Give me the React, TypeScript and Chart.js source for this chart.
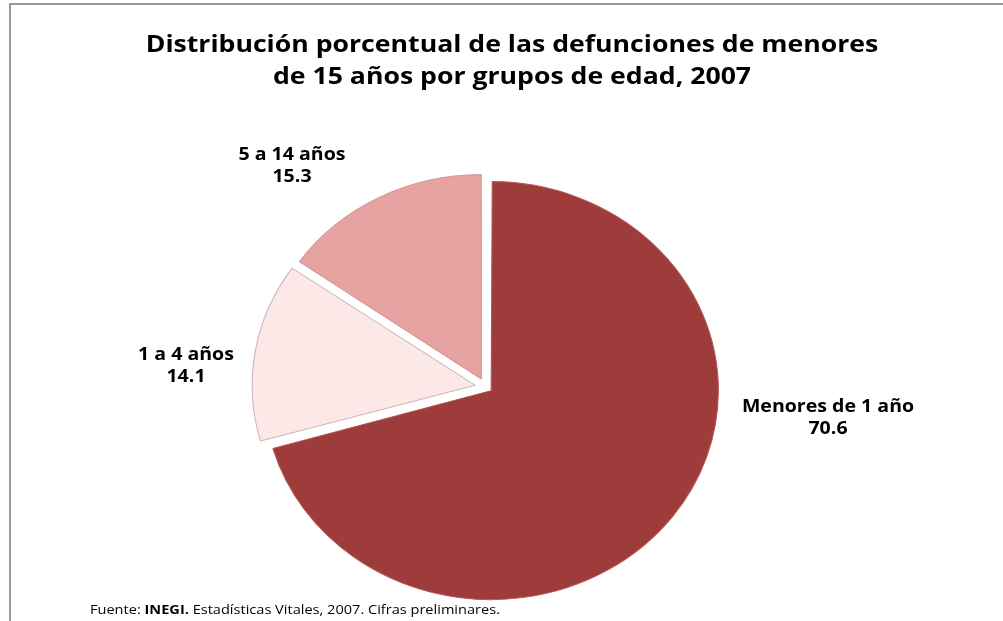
import React, { useEffect, useRef } from 'react';
import { Chart, registerables } from 'chart.js';

Chart.register(...registerables);

const TITLE_LINES = [
  'Distribución porcentual de las defunciones de menores',
  'de 15 años por grupos de edad, 2007',
];
const CATEGORIES = ['Menores de 1 año', '1 a 4 años', '5 a 14 años'];
const VALUES = [70.6, 14.1, 15.3];
const VALUE_LABELS = ['70.6', '14.1', '15.3'];
const COLORS = ['#9e3c3c', '#fde8e8', '#e6a3a1'];
const BORDER_COLORS = ['#b55454', '#c9b9b9', '#d89694'];
const OFFSETS = [24, 40, 36];
const FOOTER_PARTS: [string, boolean][] = [
  ['Fuente: ', false],
  ['INEGI.', true],
  [' Estadísticas Vitales, 2007. Cifras preliminares.', false],
];
// label anchor positions (layout, not data)
const LABEL_POS = [
  { x: 828, y: 407 },
  { x: 186, y: 355 },
  { x: 292, y: 155 },
];

const W = 1003;
const H = 621;
const SX = 1.087;
const FONT = '"Open Sans", "DejaVu Sans", sans-serif';

const framePlugin = {
  id: 'frame',
  beforeDraw(chart: any) {
    const ctx = chart.ctx;
    ctx.save();
    ctx.fillStyle = '#ffffff';
    ctx.fillRect(0, 0, W, H);
    ctx.strokeStyle = '#9a9a9a';
    ctx.lineWidth = 2;
    ctx.beginPath();
    ctx.moveTo(10, H);
    ctx.lineTo(10, 4);
    ctx.lineTo(W, 4);
    ctx.stroke();
    ctx.restore();
  },
};

const stretchPlugin = {
  id: 'stretch',
  beforeDatasetsDraw(chart: any) {
    const arc = chart.getDatasetMeta(0).data[0];
    const ctx = chart.ctx;
    ctx.save();
    ctx.translate(arc.x, 0);
    ctx.scale(SX, 1);
    ctx.translate(-arc.x, 0);
  },
  afterDatasetsDraw(chart: any) {
    chart.ctx.restore();
  },
};

function drawStretched(ctx: CanvasRenderingContext2D, text: string, x: number, y: number, sx: number) {
  ctx.save();
  ctx.translate(x, y);
  ctx.scale(sx, 1);
  ctx.fillText(text, 0, 0);
  ctx.restore();
}

const textPlugin = {
  id: 'texts',
  afterDraw(chart: any) {
    const ctx: CanvasRenderingContext2D = chart.ctx;
    ctx.save();
    ctx.fillStyle = '#000000';
    ctx.textAlign = 'center';
    ctx.textBaseline = 'middle';
    ctx.font = `bold 24px ${FONT}`;
    TITLE_LINES.forEach((t, i) => drawStretched(ctx, t, 512, 45 + i * 32, 1.11));

    ctx.font = `bold 17px ${FONT}`;
    CATEGORIES.forEach((c, i) => {
      const p = LABEL_POS[i];
      drawStretched(ctx, c, p.x, p.y, 1.15);
      drawStretched(ctx, VALUE_LABELS[i], p.x, p.y + 22, 1.15);
    });

    ctx.textAlign = 'left';
    let x = 90;
    const fsx = 1.12;
    FOOTER_PARTS.forEach(([t, b]) => {
      ctx.font = `${b ? 'bold ' : ''}13px ${FONT}`;
      drawStretched(ctx, t, x, 610, fsx);
      x += ctx.measureText(t).width * fsx;
    });
    ctx.restore();
  },
};

export default function App() {
  const ref = useRef<HTMLCanvasElement | null>(null);
  useEffect(() => {
    if (!ref.current) return;
    const chart = new Chart(ref.current, {
      type: 'pie',
      data: {
        labels: CATEGORIES,
        datasets: [
          {
            data: VALUES,
            backgroundColor: COLORS,
            borderColor: BORDER_COLORS,
            borderWidth: 1,
            offset: OFFSETS,
            clip: false as any,
          },
        ],
      },
      options: {
        responsive: false,
        animation: false,
        radius: 203,
        layout: { padding: { left: 230, right: 261, top: 165, bottom: 12 } },
        plugins: {
          legend: { display: false },
          title: { display: false },
          tooltip: { enabled: false },
        },
      } as any,
      plugins: [framePlugin, stretchPlugin, textPlugin],
    });
    return () => chart.destroy();
  }, []);
  return (
    <div style={{ position: 'absolute', left: 0, top: 0, width: W, height: H }}>
      <canvas ref={ref} width={W} height={H} />
    </div>
  );
}
